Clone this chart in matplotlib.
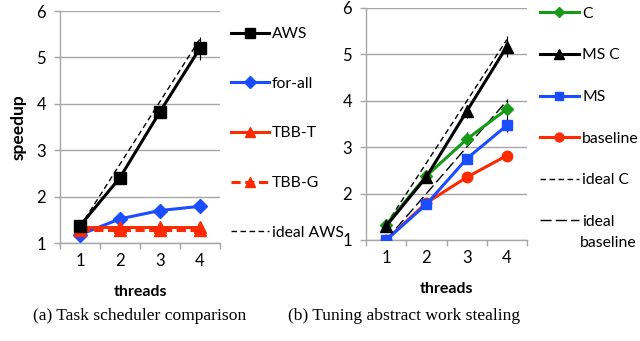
import matplotlib
matplotlib.use("Agg")
import matplotlib.pyplot as plt
from matplotlib.ticker import FixedLocator, NullFormatter

plt.rcParams['font.family'] = ['Lato', 'DejaVu Sans']

threads = [1, 2, 3, 4]
thread_labels = ["1", "2", "3", "4"]

# Panel (a)
aws = [1.37, 2.41, 3.83, 5.20]
aws_err = [0.0, 0.0, 0.12, 0.25]
for_all = [1.18, 1.52, 1.70, 1.79]
tbb_t = [1.34, 1.34, 1.34, 1.34]
tbb_g = [1.29, 1.29, 1.29, 1.29]
ideal_aws = [1.35, 2.70, 4.05, 5.40]

# Panel (b)
c_vals = [1.33, 2.38, 3.17, 3.82]
c_err = [0.0, 0.0, 0.15, 0.22]
msc_vals = [1.30, 2.36, 3.77, 5.17]
msc_err = [0.0, 0.0, 0.15, 0.22]
ms_vals = [1.00, 1.77, 2.75, 3.47]
ms_err = [0.0, 0.0, 0.0, 0.15]
base_vals = [1.00, 1.80, 2.35, 2.82]
base_err = [0.0, 0.0, 0.0, 0.10]
ideal_c = [1.33, 2.66, 3.99, 5.32]
ideal_base = [1.0, 2.0, 3.0, 4.0]

BLACK = "#000000"
BLUE = "#1a4dff"
RED = "#ff2a00"
GREEN = "#179a17"
GRID = "#a6a6a6"

TICK_FS = 12
LEG_FS = 11.3
LAB_FS = 11.5

W, H = 640, 341
fig = plt.figure(figsize=(6.4, 3.41), dpi=100)

def px_axes(x0, x1, ytop, ybot):
    return fig.add_axes([x0 / W, 1 - ybot / H, (x1 - x0) / W, (ybot - ytop) / H])

def style(ax):
    ax.set_xlim(0.5, 4.5)
    ax.set_ylim(1, 6)
    ax.set_yticks([1, 2, 3, 4, 5, 6])
    ax.yaxis.grid(True, color=GRID, linewidth=1.0)
    ax.set_axisbelow(True)
    for s in ["top", "right"]:
        ax.spines[s].set_visible(False)
    for s in ["left", "bottom"]:
        ax.spines[s].set_color(GRID)
        ax.spines[s].set_linewidth(1.0)
    ax.set_xticks(threads)
    ax.set_xticklabels(thread_labels)
    ax.xaxis.set_minor_locator(FixedLocator([0.5, 1.5, 2.5, 3.5, 4.5]))
    ax.xaxis.set_minor_formatter(NullFormatter())
    ax.tick_params(axis='x', which='major', length=0, pad=7, labelsize=TICK_FS)
    ax.tick_params(axis='x', which='minor', length=4, color=GRID, width=1)
    ax.tick_params(axis='y', length=4, color=GRID, width=1, pad=6, labelsize=TICK_FS)
    ax.set_xlabel("threads", fontsize=LAB_FS, fontweight='bold', labelpad=12)

# ---- Panel (a)
ax1 = px_axes(60, 220, 11, 243)
style(ax1)
ax1.plot(threads, ideal_aws, color=BLACK, lw=1.0, ls=(0, (4, 2.5)), label="ideal AWS", zorder=3)
ax1.errorbar(threads, aws, yerr=aws_err, fmt='none', ecolor=BLACK, elinewidth=0.8, capsize=0, zorder=5)
ax1.plot(threads, aws, color=BLACK, lw=2.2, marker='s', ms=8, label="AWS", zorder=5)
ax1.plot(threads, for_all, color=BLUE, lw=2.2, marker='D', ms=7.5, label="for-all", zorder=4)
ax1.plot(threads, tbb_t, color=RED, lw=2.2, marker='^', ms=9, label="TBB-T", zorder=4)
ax1.plot(threads, tbb_g, color=RED, lw=2.2, ls=(0, (3, 1.5)), marker='^', ms=9, label="TBB-G", zorder=4)
ax1.set_ylabel("speedup", fontsize=12.5, fontweight='bold', labelpad=7)

h, l = ax1.get_legend_handles_labels()
order = ["AWS", "for-all", "TBB-T", "TBB-G", "ideal AWS"]
hh = [h[l.index(o)] for o in order]
leg1 = ax1.legend(hh, order, loc='upper left', bbox_to_anchor=(1.07, 0.93),
                  frameon=False, fontsize=LEG_FS, handlelength=2.4, handletextpad=0.2,
                  labelspacing=2.27, borderpad=0, borderaxespad=0, markerscale=0.85)

# ---- Panel (b)
ax2 = px_axes(366, 527, 8, 240)
style(ax2)
ax2.plot(threads, ideal_c, color=BLACK, lw=1.0, ls=(0, (4, 2.5)), label="ideal C", zorder=3)
ax2.plot(threads, ideal_base, color=BLACK, lw=1.0, ls=(0, (8, 3)), label="ideal\nbaseline", zorder=3)
for vals, err, z in [(base_vals, base_err, 4), (ms_vals, ms_err, 4),
                     (c_vals, c_err, 5), (msc_vals, msc_err, 5)]:
    ax2.errorbar(threads, vals, yerr=err, fmt='none', ecolor=BLACK, elinewidth=0.8,
                 capsize=0, zorder=z)
ax2.plot(threads, base_vals, color=RED, lw=2.2, marker='o', ms=7.5, label="baseline", zorder=4)
ax2.plot(threads, ms_vals, color=BLUE, lw=2.2, marker='s', ms=7, label="MS", zorder=4)
ax2.plot(threads, c_vals, color=GREEN, lw=2.2, marker='D', ms=6, label="C", zorder=5)
ax2.plot(threads, msc_vals, color=BLACK, lw=2.2, marker='^', ms=8, label="MS C", zorder=5)

h, l = ax2.get_legend_handles_labels()
order2 = ["C", "MS C", "MS", "baseline", "ideal C", "ideal\nbaseline"]
hh2 = [h[l.index(o)] for o in order2]
leg2 = ax2.legend(hh2, ["C", "MS C", "MS", "baseline", "ideal C", "ideal"],
                  loc='upper left', bbox_to_anchor=(1.08, 1.005),
                  frameon=False, fontsize=LEG_FS, handlelength=2.5, handletextpad=0.2,
                  labelspacing=1.76, borderpad=0, borderaxespad=0, markerscale=0.85)
fig.text(580 / W, 1 - 243 / H, "baseline", fontsize=LEG_FS, va='center', ha='left')

# Captions
fig.text(140 / W, 1 - 316 / H, "(a) Task scheduler comparison", fontsize=12.6,
         family=['Liberation Serif', 'DejaVu Serif'], ha='center', va='center')
fig.text(404 / W, 1 - 316 / H, "(b) Tuning abstract work stealing", fontsize=12.6,
         family=['Liberation Serif', 'DejaVu Serif'], ha='center', va='center')

fig.savefig("out.png", dpi=100)
